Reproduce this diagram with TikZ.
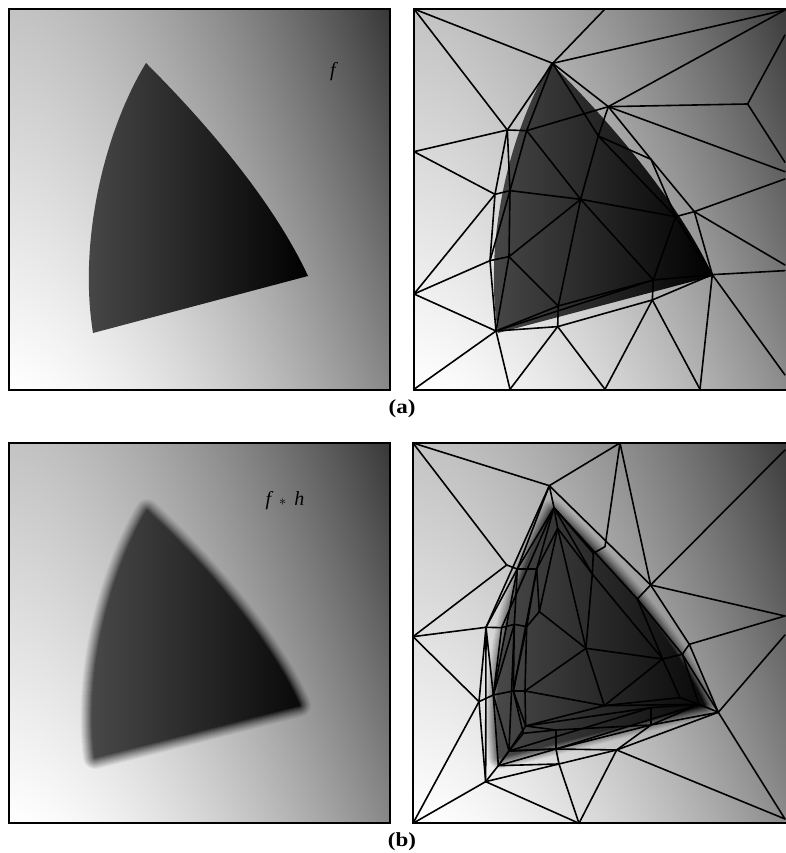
\documentclass[tikz,border=0pt]{standalone}
\usepackage{fontspec}
\setmainfont{Liberation Serif}
\newfontfamily\capfont[FakeStretch=1.15]{Liberation Serif}
\usetikzlibrary{fadings}
\pgfdeclarefunctionalshading{panelbg}{\pgfpointorigin}{\pgfpoint{100bp}{100bp}}{}{
  25 sub 50 div exch 25 sub 50 div 1.6 exp
  1 index .079 mul .47 add neg mul
  exch .235 mul 1 exch sub add
  dup dup
}
\definecolor{blobleft}{gray}{0.29}
\definecolor{softleft}{gray}{0.32}
\definecolor{blobmid}{gray}{0.12}
\newcommand{\blobpath}{(146,63) .. controls (105,130) and (78,240) .. (93,333) -- (308,276) .. controls (268,190) and (188,105) .. (146,63) -- cycle}
\newcommand{\softblobpath}{(147,511) .. controls (112,570) and (84,670) .. (95,757) -- (299,705) .. controls (268,635) and (195,555) .. (147,511) -- cycle}
\begin{tikzfadingfrompicture}[name=softblob,x=1pt,y=-1pt]
\path (60,480) rectangle (330,790);
\foreach \w [count=\k] in {24,22,20,18,16,14,12,10,8,6,4,2}
  \filldraw[draw=transparent!0,fill=transparent!0,line width=\w pt,line join=round,opacity={1/(13-\k)}] \softblobpath;
\fill[transparent!0] \softblobpath;
\end{tikzfadingfrompicture}
\tikzset{
  frame/.style={draw=black,line width=2pt},
  meshline/.style={draw=black,line width=1.6pt,line cap=round,line join=round},
  caption/.style={font=\capfont\fontsize{20}{22}\selectfont\bfseries},
  panelmark/.style={font=\fontsize{20}{22}\selectfont\itshape},
  blobshade/.style={left color=blobleft,middle color=blobmid,right color=black},
  softshade/.style={left color=softleft,middle color=blobmid,right color=black},
}
\begin{document}
\begin{tikzpicture}[x=1pt,y=-1pt]
\useasboundingbox (0,0) rectangle (785,853);
% panel (a)
\shade[shading=panelbg] (9,9) rectangle (390,390);
\shade[blobshade] \blobpath;
\draw[frame] (9,9) rectangle (390,390);
\node[panelmark] (fmark) at (333,72) {f};
\shade[shading=panelbg] (414,9) rectangle (795,390);
\begin{scope}[xshift=405pt]
\shade[blobshade] \blobpath;
\end{scope}
\begin{scope}[shift={(405,0)},x=.3333pt,y=-.3333pt]
\foreach \n/\x/\y in {TL/27/27,TM/600/27,TR/1140/30,A/443/190,B/610/320,C/1028/312,Ra/1140/105,Rb/1140/487,Rc/1140/515,D/307/390,E/365/392,F/580/408,G/738/478,La/27/455,H/270/583,I/315/572,J/527/598,K/812/650,M/868/635,Rd/1140/537,Re/1140/795,N/255/782,O/312/770,P/922/824,Rf/1140/812,Q/745/840,S/742/900,T/460/918,U/458/980,V/273/993,Lb/27/882,BL/27/1168,Ba/315/1168,Bb/600/1168,Bc/885/1168,Rg/1140/1125}
  \coordinate (\n) at (\x,\y);
\foreach \a/\b in {TL/A,TL/D,TM/A,A/TR,B/TR,C/B,C/Ra,C/Rb,A/B,A/D,A/E,A/F,F/K,B/G,G/M,F/G,B/F,B/E,B/Rc,D/E,La/D,La/H,D/H,D/I,E/I,E/J,F/J,I/J,H/I,I/O,H/N,I/N,H/Lb,N/Lb,N/O,J/O,J/T,J/Q,J/K,K/M,K/Q,M/P,K/P,G/K,M/Rd,M/Re,Q/P,Q/S,S/P,T/Q,T/U,T/O,O/V,N/V,V/Lb,V/BL,V/Ba,V/U,V/T,U/Ba,U/Bb,U/S,S/Bb,S/Bc,P/Bc,P/Rg,P/Rf,V/Q}
  \draw[meshline] (\a) -- (\b);
\end{scope}
\draw[frame] (414,9) rectangle (795,390);
\node[caption] (capa) at (402,409) {(a)};
% panel (b)
\shade[shading=panelbg] (9,443) rectangle (390,823);
\shade[path fading=softblob,fit fading=false,fading transform={shift={(195,635)}},softshade] (60,480) rectangle (330,790);
\draw[frame] (9,443) rectangle (390,823);
\node[panelmark] (fhmark) at (285,501) {f\hspace{8pt}$\scriptstyle*$\hspace{8pt}h};
\shade[shading=panelbg] (413,443) rectangle (794,823);
\shade[path fading=softblob,fit fading=false,fading transform={shift={(600,635)}},softshade] (465,480) rectangle (735,790);
\begin{scope}[shift={(405,435)},x=.3333pt,y=-.3333pt]
\foreach \n/\x/\y in {TL/24/24,TM/645/24,TR/1140/45,A/433/152,aa/447/218,ab/458/280,D/305/390,da/337/402,db/395/402,B/600/335,ba/565/355,bb/562/417,C/737/450,G/697/492,R/1140/543,Rn/1140/600,L/24/605,ea/243/577,eb/290/578,ec/328/568,ed/365/575,f/403/530,J/543/640,K/773/672,ka/832/658,M/853/628,ga/222/800,gb/265/780,gc/325/768,gd/360/768,h/598/812,P/882/808,pa/825/788,X/940/832,ma/738/818,mb/738/870,na/362/873,nb/355/895,nc/453/885,nd/453/942,oa/312/948,ob/280/992,qa/462/987,qb/635/945,V/242/1040,BL/24/1165,Bm/522/1165,BR/1140/1152}
  \coordinate (\n) at (\x,\y);
\foreach \a/\b in {TL/A,TL/D,A/TM,TM/B,TM/C,C/TR,C/R,G/C,M/R,A/C,C/M,M/X,X/BR,X/Rn,D/L,L/ea,ea/eb,eb/ec,ec/ed,ed/f,L/ga,ga/gb,gb/gc,gc/gd,ga/BL,ga/V,V/BL,V/Bm,qa/Bm,qb/Bm,qb/BR,qb/X,V/qa,qa/qb,V/ob,ob/qa,ob/oa,qa/nd,oa/nd,nd/qb,oa/ma,A/ea,A/da,D/da,da/db,A/aa,aa/da,aa/db,aa/eb,ab/db,ab/f,aa/ab,aa/ba,aa/bb,ab/bb,ab/J,ba/B,ba/bb,bb/J,bb/K,aa/G,G/ka,G/K,K/ka,ka/M,ka/X,ka/P,K/pa,pa/P,P/X,J/f,J/gd,J/K,J/h,h/K,h/pa,h/P,h/na,gd/h,gd/na,gc/na,gc/nb,gb/oa,gb/ob,ea/ga,ea/gb,eb/gb,ec/gb,ec/gc,ec/oa,da/ec,da/ea,db/ed,db/f,ed/gd,ed/gc,db/gc,da/gb,na/nc,nc/mb,na/ma,nc/nd,ma/mb,ma/P,mb/P,mb/X,nb/oa,nb/nc,oa/na,oa/nd,nd/mb,nd/P,ob/nd,qb/mb,ea/V,oa/ob}
  \draw[meshline] (\a) -- (\b);
\end{scope}
\draw[frame] (413,443) rectangle (794,823);
\node[caption] (capb) at (402,842) {(b)};
\end{tikzpicture}
\end{document}
